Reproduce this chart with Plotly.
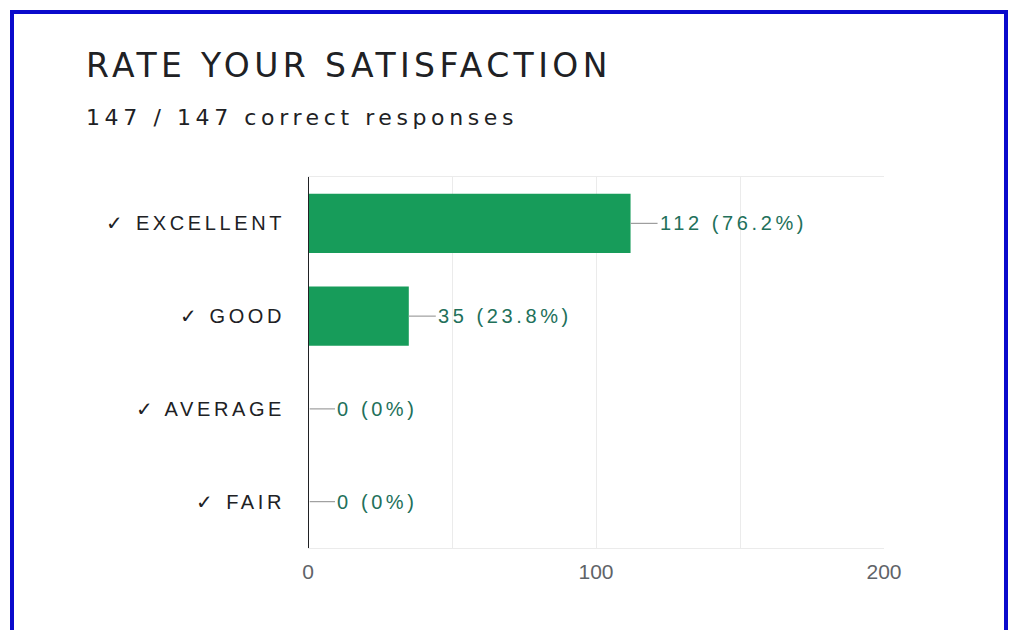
import plotly.graph_objects as go

categories = ["✓ EXCELLENT", "✓ GOOD", "✓ AVERAGE", "✓ FAIR"]
counts = [112, 35, 0, 0]
percents = ["76.2%", "23.8%", "0%", "0%"]
x_tickvals = [0, 50, 100, 150, 200]
x_ticktext = ["0", "", "100", "", "200"]
title_text = "RATE YOUR SATISFACTION"
subtitle_text = "147 / 147 correct responses"

W, H = 1010, 630
L, T = 308, 177
R = W - 884
B = H - 548
pw = W - L - R
ph = H - T - B
xmax = 200
leader_units = 27 / pw * xmax


def spaced(t, s):
    return f"<span style='letter-spacing:{s}px'>{t}</span>"


fig = go.Figure()
fig.add_trace(go.Bar(
    y=categories, x=counts, orientation="h",
    marker=dict(color="#179c5a", line=dict(width=0)),
    width=0.64, hoverinfo="skip",
))

shapes = []
annotations = []
for cat, c, p in zip(categories, counts, percents):
    x0 = c if c > 0 else 0.6
    shapes.append(dict(type="line", xref="x", yref="y", x0=x0, x1=c + leader_units,
                       y0=cat, y1=cat, line=dict(color="#9e9e9e", width=1.2)))
    annotations.append(dict(x=c + leader_units, y=cat, xref="x", yref="y",
                            text=spaced(f"{c} ({p})", 3.6), showarrow=False, xanchor="left",
                            xshift=0, font=dict(family="Liberation Sans", size=20, color="#22705a")))


def px(xp):
    return (xp - L) / pw


def py(yp):
    return (H - B - yp) / ph


# blue frame
shapes.append(dict(type="path", xref="paper", yref="paper",
                   path=f"M {px(12)} {py(700)} L {px(12)} {py(12)} L {px(1006)} {py(12)} L {px(1006)} {py(700)}",
                   line=dict(color="#0a0acc", width=4)))

annotations.append(dict(x=px(84), y=py(65), xref="paper", yref="paper",
                        text=spaced(title_text, 4.4), showarrow=False, xanchor="left", yanchor="middle",
                        font=dict(family="DejaVu Sans", size=33, color="#202124")))
annotations.append(dict(x=px(84), y=py(117), xref="paper", yref="paper",
                        text=spaced(subtitle_text, 4.6), showarrow=False, xanchor="left", yanchor="middle",
                        font=dict(family="DejaVu Sans", size=22, color="#202124")))

fig.update_layout(
    width=W, height=H,
    margin=dict(l=L, r=R, t=T, b=B, autoexpand=False),
    paper_bgcolor="white", plot_bgcolor="white",
    showlegend=False,
    shapes=shapes, annotations=annotations,
    xaxis=dict(range=[0, xmax], tickvals=x_tickvals, ticktext=x_ticktext,
               showgrid=True, gridcolor="#ebebeb", gridwidth=1,
               zeroline=False, showline=True, linecolor="#ebebeb", linewidth=1, mirror=True,
               tickfont=dict(family="Liberation Sans", size=21, color="#5f6368"), ticks="",
               ticklabelstandoff=5, fixedrange=True),
    yaxis=dict(categoryorder="array", categoryarray=categories[::-1],
               tickvals=categories, ticktext=[spaced(c, 3.6) for c in categories],
               range=[-0.5, 3.5], showgrid=False, zeroline=False,
               showline=False, ticks="",
               tickfont=dict(family="Liberation Sans", size=20, color="#202124"),
               ticklabelstandoff=22, fixedrange=True),
)
fig.add_shape(type="line", xref="x", yref="paper", x0=0, x1=0, y0=0, y1=1,
              line=dict(color="#202124", width=2))

fig.write_html(
    "out.html",
    config={"displayModeBar": False},
    post_script="document.body.style.margin='0';document.documentElement.style.overflow='hidden';",
)
